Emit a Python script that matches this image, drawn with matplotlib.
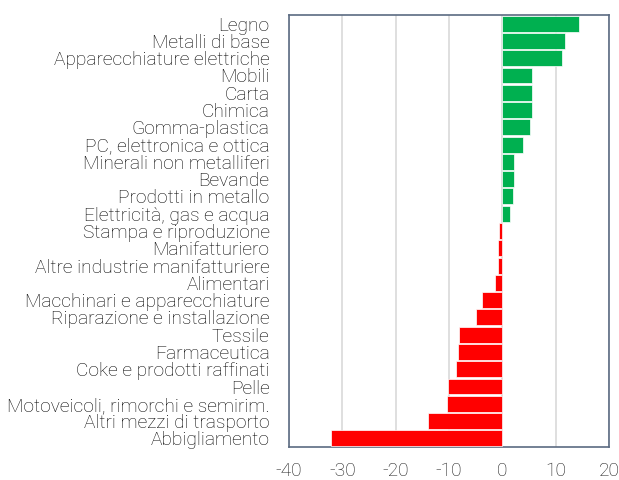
import matplotlib
matplotlib.use("Agg")
import matplotlib.pyplot as plt

categories = [
    "Legno", "Metalli di base", "Apparecchiature elettriche", "Mobili", "Carta",
    "Chimica", "Gomma-plastica", "PC, elettronica e ottica",
    "Minerali non metalliferi", "Bevande", "Prodotti in metallo",
    "Elettricità, gas e acqua", "Stampa e riproduzione", "Manifatturiero",
    "Altre industrie manifatturiere", "Alimentari", "Macchinari e apparecchiature",
    "Riparazione e installazione", "Tessile", "Farmaceutica",
    "Coke e prodotti raffinati", "Pelle", "Motoveicoli, rimorchi e semirim.",
    "Altri mezzi di trasporto", "Abbigliamento",
]
values = [14.4, 11.8, 11.1, 5.6, 5.6, 5.6, 5.2, 3.9, 2.2, 2.2, 2.0, 1.5,
          -0.7, -0.9, -0.9, -1.3, -3.8, -4.9, -8.1, -8.3, -8.6, -10.1, -10.3,
          -13.9, -32.2]
xticks = [-40, -30, -20, -10, 0, 10, 20]

plt.rcParams["font.family"] = ["Roboto", "DejaVu Sans"]
plt.rcParams["font.weight"] = "light"

fig = plt.figure(figsize=(6.19, 4.8), dpi=100)
ax = fig.add_axes([289 / 619, 1 - 447 / 480, 320 / 619, 432 / 480])

colors = ["#00b050" if v >= 0 else "#ff0000" for v in values]
ypos = list(range(len(categories)))
ax.barh(ypos, values, height=0.92, color=colors, edgecolor="white",
        linewidth=0.5, zorder=3)

ax.set_xlim(-40, 20)
ax.set_ylim(len(categories) - 0.5, -0.5)
ax.set_xticks(xticks)
ax.set_xticklabels([str(t) for t in xticks])
ax.set_yticks(ypos)
ax.set_yticklabels(categories)
ax.grid(axis="x", color="#d9d9d9", linewidth=1.2, zorder=0)
ax.tick_params(axis="y", length=0, pad=14, labelsize=13.8, labelcolor="#000000")
ax.tick_params(axis="x", length=0, pad=11, labelsize=13.8, labelcolor="#1a1a1a")
for s in ax.spines.values():
    s.set_color("#5b6b82")
    s.set_linewidth(1.2)

fig.savefig("out.png", dpi=100)
